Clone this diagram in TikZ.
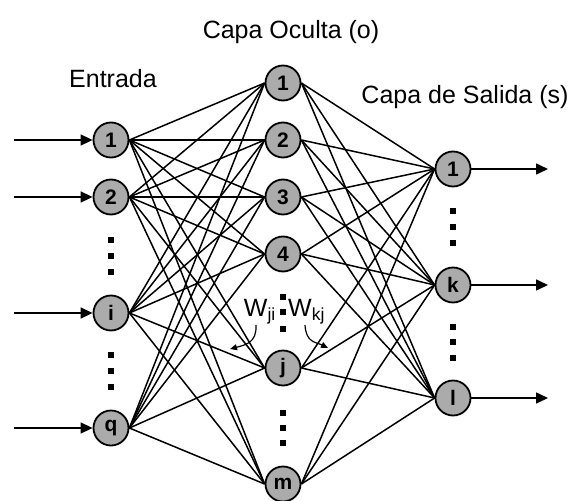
\documentclass[tikz,border=0pt]{standalone}
\usepackage{fontspec}
\setmainfont{Liberation Sans}
\usetikzlibrary{arrows.meta}
\pgfdeclarelayer{background}
\pgfsetlayers{background,main}
\tikzset{
  neuron/.style={circle, draw=black, line width=1.8pt, fill=black!33, minimum size=35pt, inner sep=0pt, font=\fontsize{21}{22}\selectfont\bfseries},
  conn/.style={line width=1.5pt},
  ioarrow/.style={line width=1.6pt, -{Triangle[length=12pt,width=11pt]}},
  dotmark/.style={fill=black, minimum size=6.5pt, inner sep=0pt, draw=none},
  title/.style={font=\fontsize{25}{28}\selectfont},
  wlabel/.style={font=\fontsize{25}{28}\selectfont, inner sep=0pt},
  warrow/.style={line width=1.2pt, -{Triangle[length=7pt,width=6pt]}}
}
\begin{document}
\begin{tikzpicture}[x=1pt,y=-1pt]
\useasboundingbox (0,0) rectangle (572,500);
% input layer
\node[neuron] (i1) at (111,140) {1};
\node[neuron] (i2) at (111,197) {2};
\node[neuron] (ii) at (111,313) {i};
\node[neuron] (iq) at (111,428) {q};
% hidden layer
\node[neuron] (h1) at (283,83) {1};
\node[neuron] (h2) at (283,140) {2};
\node[neuron] (h3) at (283,197) {3};
\node[neuron] (h4) at (283,254) {4};
\node[neuron] (hj) at (283,368) {j};
\node[neuron] (hm) at (283,484) {m};
% output layer
\node[neuron] (o1) at (453,169) {1};
\node[neuron] (ok) at (453,285) {k};
\node[neuron] (ol) at (453,398) {l};
% connections
\begin{pgfonlayer}{background}
\foreach \a in {i1,i2,ii,iq}
  \foreach \b in {h1,h2,h3,h4,hj,hm}
    \draw[conn] (\a.east) -- (\b.west);
\foreach \a in {h1,h2,h3,h4,hj,hm}
  \foreach \b in {o1,ok,ol}
    \draw[conn] (\a.east) -- (\b.west);
\end{pgfonlayer}
% input arrows
\foreach \n/\y in {i1/140, i2/197, ii/313, iq/428} {
  \coordinate (in\n) at (14,\y);
  \draw[ioarrow] (in\n) -- (\n.west);
}
% output arrows
\foreach \n/\y in {o1/169, ok/285, ol/398} {
  \coordinate (out\n) at (548,\y);
  \draw[ioarrow] (\n.east) -- (out\n);
}
% dots
\foreach \x/\y in {111/240, 111/256, 111/272, 111/355, 111/371, 111/387,
  283/297, 283/312, 283/329, 283/413, 283/428, 283/443,
  453/211, 453/227, 453/243, 453/327, 453/342, 453/358}
  \node[dotmark] at (\x,\y) {};
% titles
\node[title] (tin) at (113,79) {Entrada};
\node[title] (thid) at (291,32) {Capa Oculta (o)};
\node[title] (tout) at (465,97) {Capa de Salida (s)};
% weights
\node[wlabel, anchor=east] (wji) at (276,312) {W\textsubscript{ji}};
\node[wlabel, anchor=west] (wkj) at (288,312) {W\textsubscript{kj}};
\coordinate (wjiend) at (230,349);
\coordinate (wkjend) at (328,348);
\draw[warrow] (256,325) .. controls (257,343) and (245,345) .. (wjiend);
\draw[warrow] (305,325) .. controls (306,343) and (316,342) .. (wkjend);
\end{tikzpicture}
\end{document}
